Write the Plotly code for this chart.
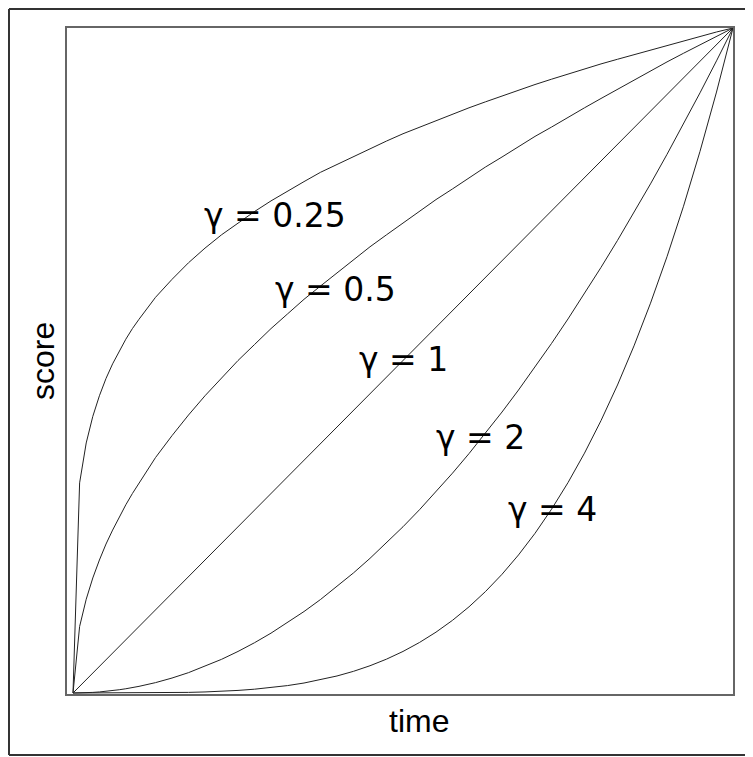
import plotly.graph_objects as go

# time axis samples (fraction of full time)
time_pts = [0, 0.01, 0.02, 0.03, 0.04, 0.05, 0.06, 0.07, 0.08, 0.09, 0.1,
            0.125, 0.15, 0.175, 0.2, 0.225, 0.25, 0.275, 0.3, 0.325, 0.35, 0.375,
            0.4, 0.425, 0.45, 0.475, 0.5, 0.525, 0.55, 0.575, 0.6, 0.625, 0.65,
            0.675, 0.7, 0.725, 0.75, 0.775, 0.8, 0.825, 0.85, 0.875, 0.9, 0.925,
            0.95, 0.975, 1.0]

# score at the time samples above
score_g025 = [0, 0.316, 0.376, 0.416, 0.447, 0.473, 0.495, 0.514, 0.532, 0.548, 0.562,
              0.595, 0.622, 0.647, 0.669, 0.689, 0.707, 0.724, 0.740, 0.755, 0.769,
              0.783, 0.795, 0.807, 0.819, 0.830, 0.841, 0.851, 0.861, 0.871, 0.880,
              0.889, 0.898, 0.906, 0.915, 0.923, 0.931, 0.938, 0.946, 0.953, 0.960,
              0.967, 0.974, 0.981, 0.987, 0.994, 1.0]
score_g05 = [0, 0.100, 0.141, 0.173, 0.200, 0.224, 0.245, 0.265, 0.283, 0.300, 0.316,
             0.354, 0.387, 0.418, 0.447, 0.474, 0.500, 0.524, 0.548, 0.570, 0.592,
             0.612, 0.632, 0.652, 0.671, 0.689, 0.707, 0.725, 0.742, 0.758, 0.775,
             0.791, 0.806, 0.822, 0.837, 0.851, 0.866, 0.880, 0.894, 0.908, 0.922,
             0.935, 0.949, 0.962, 0.975, 0.987, 1.0]
score_g1 = [0, 0.01, 0.02, 0.03, 0.04, 0.05, 0.06, 0.07, 0.08, 0.09, 0.1,
            0.125, 0.15, 0.175, 0.2, 0.225, 0.25, 0.275, 0.3, 0.325, 0.35, 0.375,
            0.4, 0.425, 0.45, 0.475, 0.5, 0.525, 0.55, 0.575, 0.6, 0.625, 0.65,
            0.675, 0.7, 0.725, 0.75, 0.775, 0.8, 0.825, 0.85, 0.875, 0.9, 0.925,
            0.95, 0.975, 1.0]
score_g2 = [0, 0.0001, 0.0004, 0.0009, 0.0016, 0.0025, 0.0036, 0.0049, 0.0064, 0.0081,
            0.01, 0.0156, 0.0225, 0.0306, 0.04, 0.0506, 0.0625, 0.0756, 0.09, 0.1056,
            0.1225, 0.1406, 0.16, 0.1806, 0.2025, 0.2256, 0.25, 0.2756, 0.3025,
            0.3306, 0.36, 0.3906, 0.4225, 0.4556, 0.49, 0.5256, 0.5625, 0.6006, 0.64,
            0.6806, 0.7225, 0.7656, 0.81, 0.8556, 0.9025, 0.9506, 1.0]
score_g4 = [0, 0, 0, 0, 0, 0, 0, 0, 0.00004, 0.00007, 0.0001,
            0.00024, 0.00051, 0.00094, 0.0016, 0.00256, 0.0039, 0.00572, 0.0081,
            0.01116, 0.015, 0.0198, 0.0256, 0.0326, 0.041, 0.0509, 0.0625, 0.076,
            0.0915, 0.1093, 0.1296, 0.1526, 0.1785, 0.2076, 0.2401, 0.2763, 0.3164,
            0.3607, 0.4096, 0.4632, 0.522, 0.5862, 0.6561, 0.732, 0.8145, 0.9037, 1.0]

curve_labels = ["γ = 0.25", "γ = 0.5", "γ = 1", "γ = 2", "γ = 4"]
label_time = [0.306, 0.397, 0.500, 0.618, 0.726]
label_score = [0.718, 0.607, 0.501, 0.384, 0.276]

TITLE_FONT = "Liberation Sans, Arial, Helvetica, sans-serif"
LABEL_FONT = "DejaVu Sans, Verdana, sans-serif"

fig = go.Figure()
for ys in [score_g025, score_g05, score_g1, score_g2, score_g4]:
    fig.add_trace(go.Scatter(
        x=time_pts, y=ys, mode="lines",
        line=dict(color="#222222", width=1),
        showlegend=False, hoverinfo="skip",
    ))

for txt, lx, ly in zip(curve_labels, label_time, label_score):
    fig.add_annotation(
        x=lx, y=ly, text=txt, showarrow=False,
        font=dict(family=LABEL_FONT, size=33, color="black"),
        xanchor="center", yanchor="middle",
    )

# axis titles placed by hand, like the base-graphics original
fig.add_annotation(
    xref="paper", yref="paper", x=0.5285, y=-0.011, text="time",
    showarrow=False, font=dict(family=TITLE_FONT, size=32, color="black"),
    xanchor="center", yanchor="top",
)
fig.add_annotation(
    xref="paper", yref="paper", x=-0.006, y=0.5, text="score", textangle=-90,
    showarrow=False, font=dict(family=TITLE_FONT, size=32, color="black"),
    xanchor="right", yanchor="middle",
)

# outer frame: left, top and bottom edges only (the right one is off the page)
frame = dict(type="line", xref="paper", yref="paper",
             line=dict(color="#333333", width=2))
fig.add_shape(x0=-0.0871, x1=-0.0871, y0=-0.0916, y1=1.0285, **frame)
fig.add_shape(x0=-0.0871, x1=1.2, y0=1.0285, y1=1.0285, **frame)
fig.add_shape(x0=-0.0871, x1=1.2, y0=-0.0916, y1=-0.0916, **frame)

axis_common = dict(
    showgrid=False, zeroline=False, showticklabels=False, ticks="",
    showline=True, mirror=True, linecolor="#666666", linewidth=1.5,
)
fig.update_xaxes(range=[-0.0091, 1.0], **axis_common)
fig.update_yaxes(range=[-0.0015, 1.0], **axis_common)

# the page body adds an 8px margin, so the plot box is shifted to suit
fig.update_layout(
    width=753, height=749,
    margin=dict(l=59, r=28, t=20, b=63),
    paper_bgcolor="white", plot_bgcolor="white",
)

fig.write_html("out.html")
